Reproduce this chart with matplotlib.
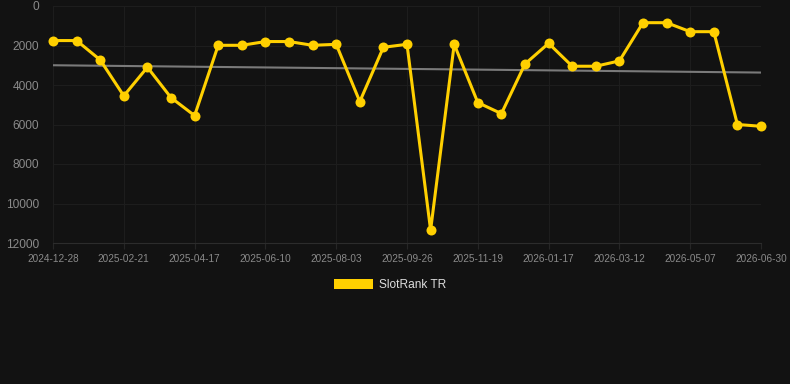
import matplotlib
matplotlib.use("Agg")
import matplotlib.pyplot as plt
from matplotlib.patches import Patch

plt.rcParams['font.family'] = ['Liberation Sans', 'DejaVu Sans']

tick_labels = ["2024-12-28", "2025-02-21", "2025-04-17", "2025-06-10", "2025-08-03",
               "2025-09-26", "2025-11-19", "2026-01-17", "2026-03-12", "2026-05-07",
               "2026-06-30"]
rank_values = [1750, 1750, 2730, 4550, 3100, 4640, 5550, 1990, 1990, 1800, 1800,
               1990, 1940, 4840, 2090, 1940, 11350, 1940, 4890, 5450, 2935, 1890,
               3050, 3050, 2780, 845, 845, 1300, 1300, 6000, 6090]
trend_values = [3000, 3370]
series_name = "SlotRank TR"
y_ticks = [0, 2000, 4000, 6000, 8000, 10000, 12000]

BG = "#121212"
YELLOW = "#FFD000"
GRID = "#1d1d1d"

fig = plt.figure(figsize=(7.9, 3.84), dpi=100, facecolor=BG)
ax = fig.add_axes([53/790, 1 - 243/384, (761-53)/790, (243-6)/384])
ax.set_facecolor(BG)

x = list(range(len(rank_values)))
ax.plot([x[0], x[-1]], trend_values, color="#7a7a7a", lw=1.5, zorder=2)
ax.plot(x, rank_values, color=YELLOW, lw=2.2, marker='o', ms=7.2,
        markeredgewidth=0, zorder=3, clip_on=False, solid_joinstyle='miter')

ax.set_xlim(0, len(rank_values) - 1)
ax.set_ylim(12000, 0)
ax.set_yticks(y_ticks)
ax.set_yticklabels([str(v) for v in y_ticks])
tick_pos = list(range(0, len(rank_values), 3))
ax.set_xticks(tick_pos)
ax.set_xticklabels(tick_labels)

ax.grid(True, color=GRID, lw=0.8)
for s in ax.spines.values():
    s.set_visible(False)
ax.spines['bottom'].set_visible(True)
ax.spines['bottom'].set_color("#2c2c2c")
ax.spines['bottom'].set_linewidth(0.8)
ax.tick_params(axis='y', length=0, pad=10, labelsize=8.6, labelcolor="#8a8a8a")
ax.tick_params(axis='x', length=4, color="#262626", pad=4, labelsize=7.2, labelcolor="#8a8a8a")

handle = Patch(facecolor=YELLOW, edgecolor='none')
leg = fig.legend([handle], [series_name], loc='center',
                 bbox_to_anchor=(390/790, 1 - 285/384), frameon=False,
                 handlelength=3.33, handleheight=0.9, handletextpad=0.5,
                 fontsize=8.6, labelcolor="#dddddd")

fig.savefig("out.png", dpi=100, facecolor=BG)
